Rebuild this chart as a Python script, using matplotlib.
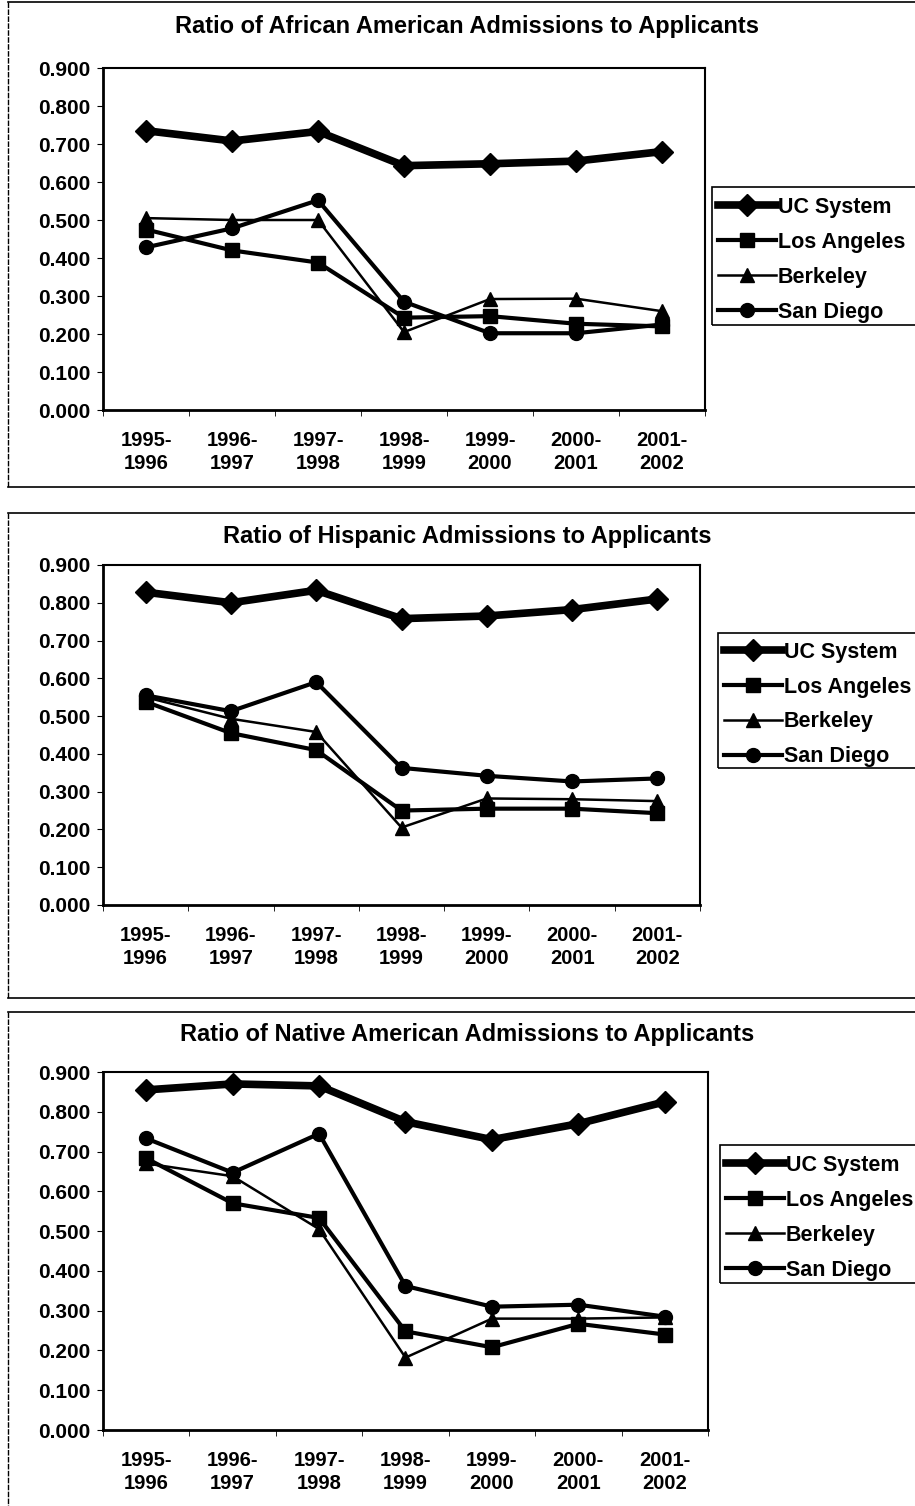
import matplotlib
matplotlib.use("Agg")
import matplotlib.pyplot as plt
from matplotlib.patches import Rectangle
from matplotlib.lines import Line2D

plt.rcParams['font.family'] = ['Liberation Sans', 'DejaVu Sans']
plt.rcParams['font.weight'] = 'bold'

years = ["1995-\n1996", "1996-\n1997", "1997-\n1998", "1998-\n1999",
         "1999-\n2000", "2000-\n2001", "2001-\n2002"]
series_names = ["UC System", "Los Angeles", "Berkeley", "San Diego"]

titles = ["Ratio of African American Admissions to Applicants",
          "Ratio of Hispanic Admissions to Applicants",
          "Ratio of Native American Admissions to Applicants"]

# African American
aa_uc = [0.735, 0.708, 0.733, 0.643, 0.648, 0.655, 0.680]
aa_la = [0.475, 0.420, 0.388, 0.243, 0.247, 0.227, 0.220]
aa_bk = [0.505, 0.500, 0.500, 0.205, 0.292, 0.293, 0.260]
aa_sd = [0.428, 0.478, 0.552, 0.285, 0.202, 0.202, 0.225]

# Hispanic
hi_uc = [0.828, 0.800, 0.833, 0.758, 0.765, 0.782, 0.810]
hi_la = [0.538, 0.455, 0.410, 0.250, 0.255, 0.255, 0.243]
hi_bk = [0.550, 0.493, 0.458, 0.205, 0.282, 0.280, 0.275]
hi_sd = [0.555, 0.513, 0.590, 0.363, 0.342, 0.327, 0.335]

# Native American
na_uc = [0.855, 0.870, 0.865, 0.775, 0.730, 0.770, 0.825]
na_la = [0.683, 0.570, 0.533, 0.248, 0.208, 0.267, 0.240]
na_bk = [0.670, 0.638, 0.505, 0.182, 0.280, 0.280, 0.283]
na_sd = [0.733, 0.647, 0.745, 0.362, 0.310, 0.315, 0.285]

datasets = [[aa_uc, aa_la, aa_bk, aa_sd],
            [hi_uc, hi_la, hi_bk, hi_sd],
            [na_uc, na_la, na_bk, na_sd]]

styles = [dict(lw=5.5, marker='D', ms=11),
          dict(lw=3.0, marker='s', ms=10),
          dict(lw=1.8, marker='^', ms=10),
          dict(lw=3.0, marker='o', ms=10)]

W, H = 915, 1506
fig = plt.figure(figsize=(W / 100, H / 100), dpi=100)

boxes = [(103, 68, 705, 410), (103, 565, 700, 905), (103, 1072, 708, 1430)]
title_y = [27, 537, 1034]
legend_boxes = [(712, 187, 925, 325), (718, 633, 925, 768), (720, 1145, 925, 1283)]
panels = [(8, 2, 930, 487), (8, 513, 930, 998), (8, 1012, 930, 1530)]

def fx(x):
    return x / W

def fy(y):
    return 1 - y / H

for i in range(3):
    px0, py0, px1, py1 = panels[i]
    fig.add_artist(Line2D([fx(px0), fx(px0)], [fy(py0), fy(py1)], transform=fig.transFigure,
                          color='black', lw=1.0, ls=(0, (4, 1))))
    fig.add_artist(Line2D([fx(px0), fx(px1)], [fy(py0), fy(py0)], transform=fig.transFigure,
                          color='black', lw=1.2))
    fig.add_artist(Line2D([fx(px0), fx(px1)], [fy(py1), fy(py1)], transform=fig.transFigure,
                          color='black', lw=1.2))
    l, t, r, b = boxes[i]
    ax = fig.add_axes([fx(l), fy(b), fx(r - l), (b - t) / H])
    x = list(range(len(years)))
    handles = []
    for vals, name, st in zip(datasets[i], series_names, styles):
        h, = ax.plot(x, vals, color='black', lw=st['lw'], marker=st['marker'],
                     ms=st['ms'], mfc='black', mec='black', label=name,
                     clip_on=False)
        handles.append(h)
    ax.set_xlim(-0.5, len(years) - 0.5)
    ax.set_ylim(0, 0.9)
    ax.set_yticks([k / 10 for k in range(10)])
    ax.set_yticklabels([f"{k / 10:.3f}" for k in range(10)], fontsize=15, fontweight='bold')
    ax.set_xticks(x)
    ax.set_xticklabels(years, fontsize=14.5, fontweight='bold', linespacing=1.3)
    ax.set_xticks([k - 0.5 for k in range(len(years) + 1)], minor=True)
    ax.tick_params(axis='x', which='major', length=0, pad=15)
    ax.tick_params(axis='x', which='minor', length=4, direction='out')
    ax.tick_params(axis='y', length=4, direction='out', pad=5)
    for s in ['left', 'bottom']:
        ax.spines[s].set_linewidth(2.0)
    for s in ['top', 'right']:
        ax.spines[s].set_linewidth(1.5)
    fig.text(fx(467), fy(title_y[i]), titles[i], ha='center', va='center',
             fontsize=17, fontweight='bold')
    lx0, ly0, lx1, ly1 = legend_boxes[i]
    fig.add_artist(Rectangle((fx(lx0), fy(ly1)), fx(lx1 - lx0), (ly1 - ly0) / H,
                             transform=fig.transFigure, fill=False,
                             edgecolor='black', lw=1.2))
    leg = fig.legend(handles, series_names, loc='center left',
                     bbox_to_anchor=(fx(lx0 + 2), fy((ly0 + ly1) / 2 + 4)),
                     frameon=False, fontsize=15.5, handlelength=2.7,
                     handletextpad=0.05, labelspacing=0.65, borderaxespad=0,
                     borderpad=0.2)

fig.savefig("out.png", dpi=100, facecolor='white')
